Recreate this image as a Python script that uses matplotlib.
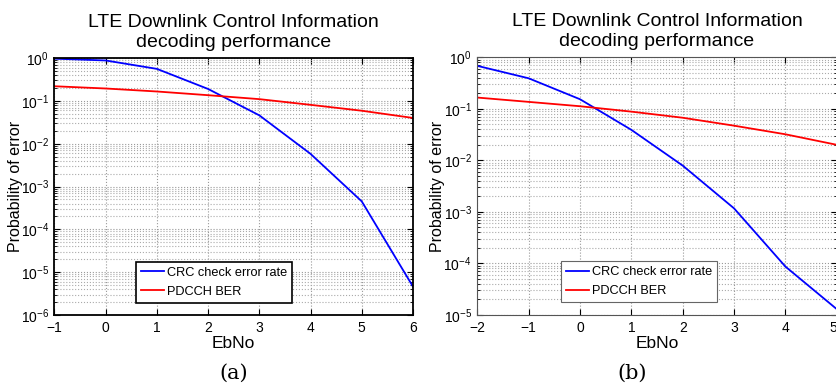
import matplotlib
matplotlib.use("Agg")
import matplotlib.pyplot as plt
import numpy as np
from matplotlib.ticker import LogLocator, NullFormatter

plt.rcParams['font.family'] = ['Liberation Sans', 'DejaVu Sans']
plt.rcParams['mathtext.fontset'] = 'custom'
plt.rcParams['mathtext.rm'] = 'Liberation Sans'

title = "LTE Downlink Control Information\ndecoding performance"

# Panel (a)
ebno_a = [-1, 0, 1, 2, 3, 4, 5, 6]
crc_a = [0.97, 0.88, 0.56, 0.19, 0.046, 0.0058, 4.5e-4, 4.6e-6]
ber_a = [0.22, 0.195, 0.166, 0.136, 0.11, 0.081, 0.059, 0.040]

# Panel (b)
ebno_b = [-2, -1, 0, 1, 2, 3, 4, 5]
crc_b = [0.68, 0.39, 0.153, 0.039, 0.0079, 0.00117, 8.7e-5, 1.3e-5]
ber_b = [0.165, 0.136, 0.112, 0.088, 0.067, 0.047, 0.032, 0.020]

series_labels = ["CRC check error rate", "PDCCH BER"]
captions = ["(a)", "(b)"]

fig = plt.figure(figsize=(8.37, 3.84), dpi=100)
axA = fig.add_axes([0.0651, 0.1797, 0.4283, 0.669])
axB = fig.add_axes([0.5703, 0.1797, 0.4294, 0.6713])

def style(ax, x, crc, ber, ylim, edgecol, lw, legend_edge, legend_lw, leg_anchor, ylab_x):
    ax.plot(x, crc, color='#0000ff', lw=1.3, label=series_labels[0])
    ax.plot(x, ber, color='#ff0000', lw=1.3, label=series_labels[1])
    ax.set_yscale('log')
    ax.set_xlim(x[0], x[-1])
    ax.set_ylim(*ylim)
    ax.set_xticks(x)
    ax.set_xticklabels([("\u2212%d" % -v) if v < 0 else str(v) for v in x])
    ax.yaxis.set_major_locator(LogLocator(base=10, numticks=20))
    ax.yaxis.set_minor_locator(LogLocator(base=10, subs=np.arange(2, 10), numticks=20))
    ax.yaxis.set_minor_formatter(NullFormatter())
    ax.grid(True, which='major', axis='both', linestyle=':', color='#999999', lw=0.8)
    ax.grid(True, which='minor', axis='y', linestyle=':', color='#aaaaaa', lw=0.8)
    ax.tick_params(which='both', direction='in', top=True, right=True, labelsize=10, pad=4)
    ax.tick_params(which='major', length=4)
    ax.tick_params(which='minor', length=2)
    for s in ax.spines.values():
        s.set_color(edgecol)
        s.set_linewidth(lw)
    ax.set_title(title, fontsize=14, pad=8, linespacing=1.25)
    ax.set_xlabel("EbNo", fontsize=12.5, labelpad=1)
    ax.set_ylabel("Probability of error", fontsize=11.5)
    ax.yaxis.set_label_coords(ylab_x, 0.5)
    leg = ax.legend(loc='lower left', bbox_to_anchor=leg_anchor, fontsize=9.2,
                    fancybox=False, framealpha=1, handlelength=1.8, handletextpad=0.25,
                    borderpad=0.4, labelspacing=0.55, borderaxespad=0.0)
    leg.get_frame().set_edgecolor(legend_edge)
    leg.get_frame().set_linewidth(legend_lw)

style(axA, ebno_a, crc_a, ber_a, (1e-6, 1), 'black', 1.3, 'black', 1.2, (0.2265, 0.047), -0.088)
style(axB, ebno_b, crc_b, ber_b, (1e-5, 1), '#555555', 0.8, '#666666', 0.8, (0.232, 0.049), -0.09)

# keep the last tick label of panel (b) inside the figure
axB.get_xticklabels()[-1].set_horizontalalignment('right')

fig.text(0.2793, 0.029, captions[0], ha='center', va='center', fontsize=15, family='DejaVu Serif')
fig.text(0.7550, 0.029, captions[1], ha='center', va='center', fontsize=15, family='DejaVu Serif')

fig.savefig("out.png", dpi=100)
